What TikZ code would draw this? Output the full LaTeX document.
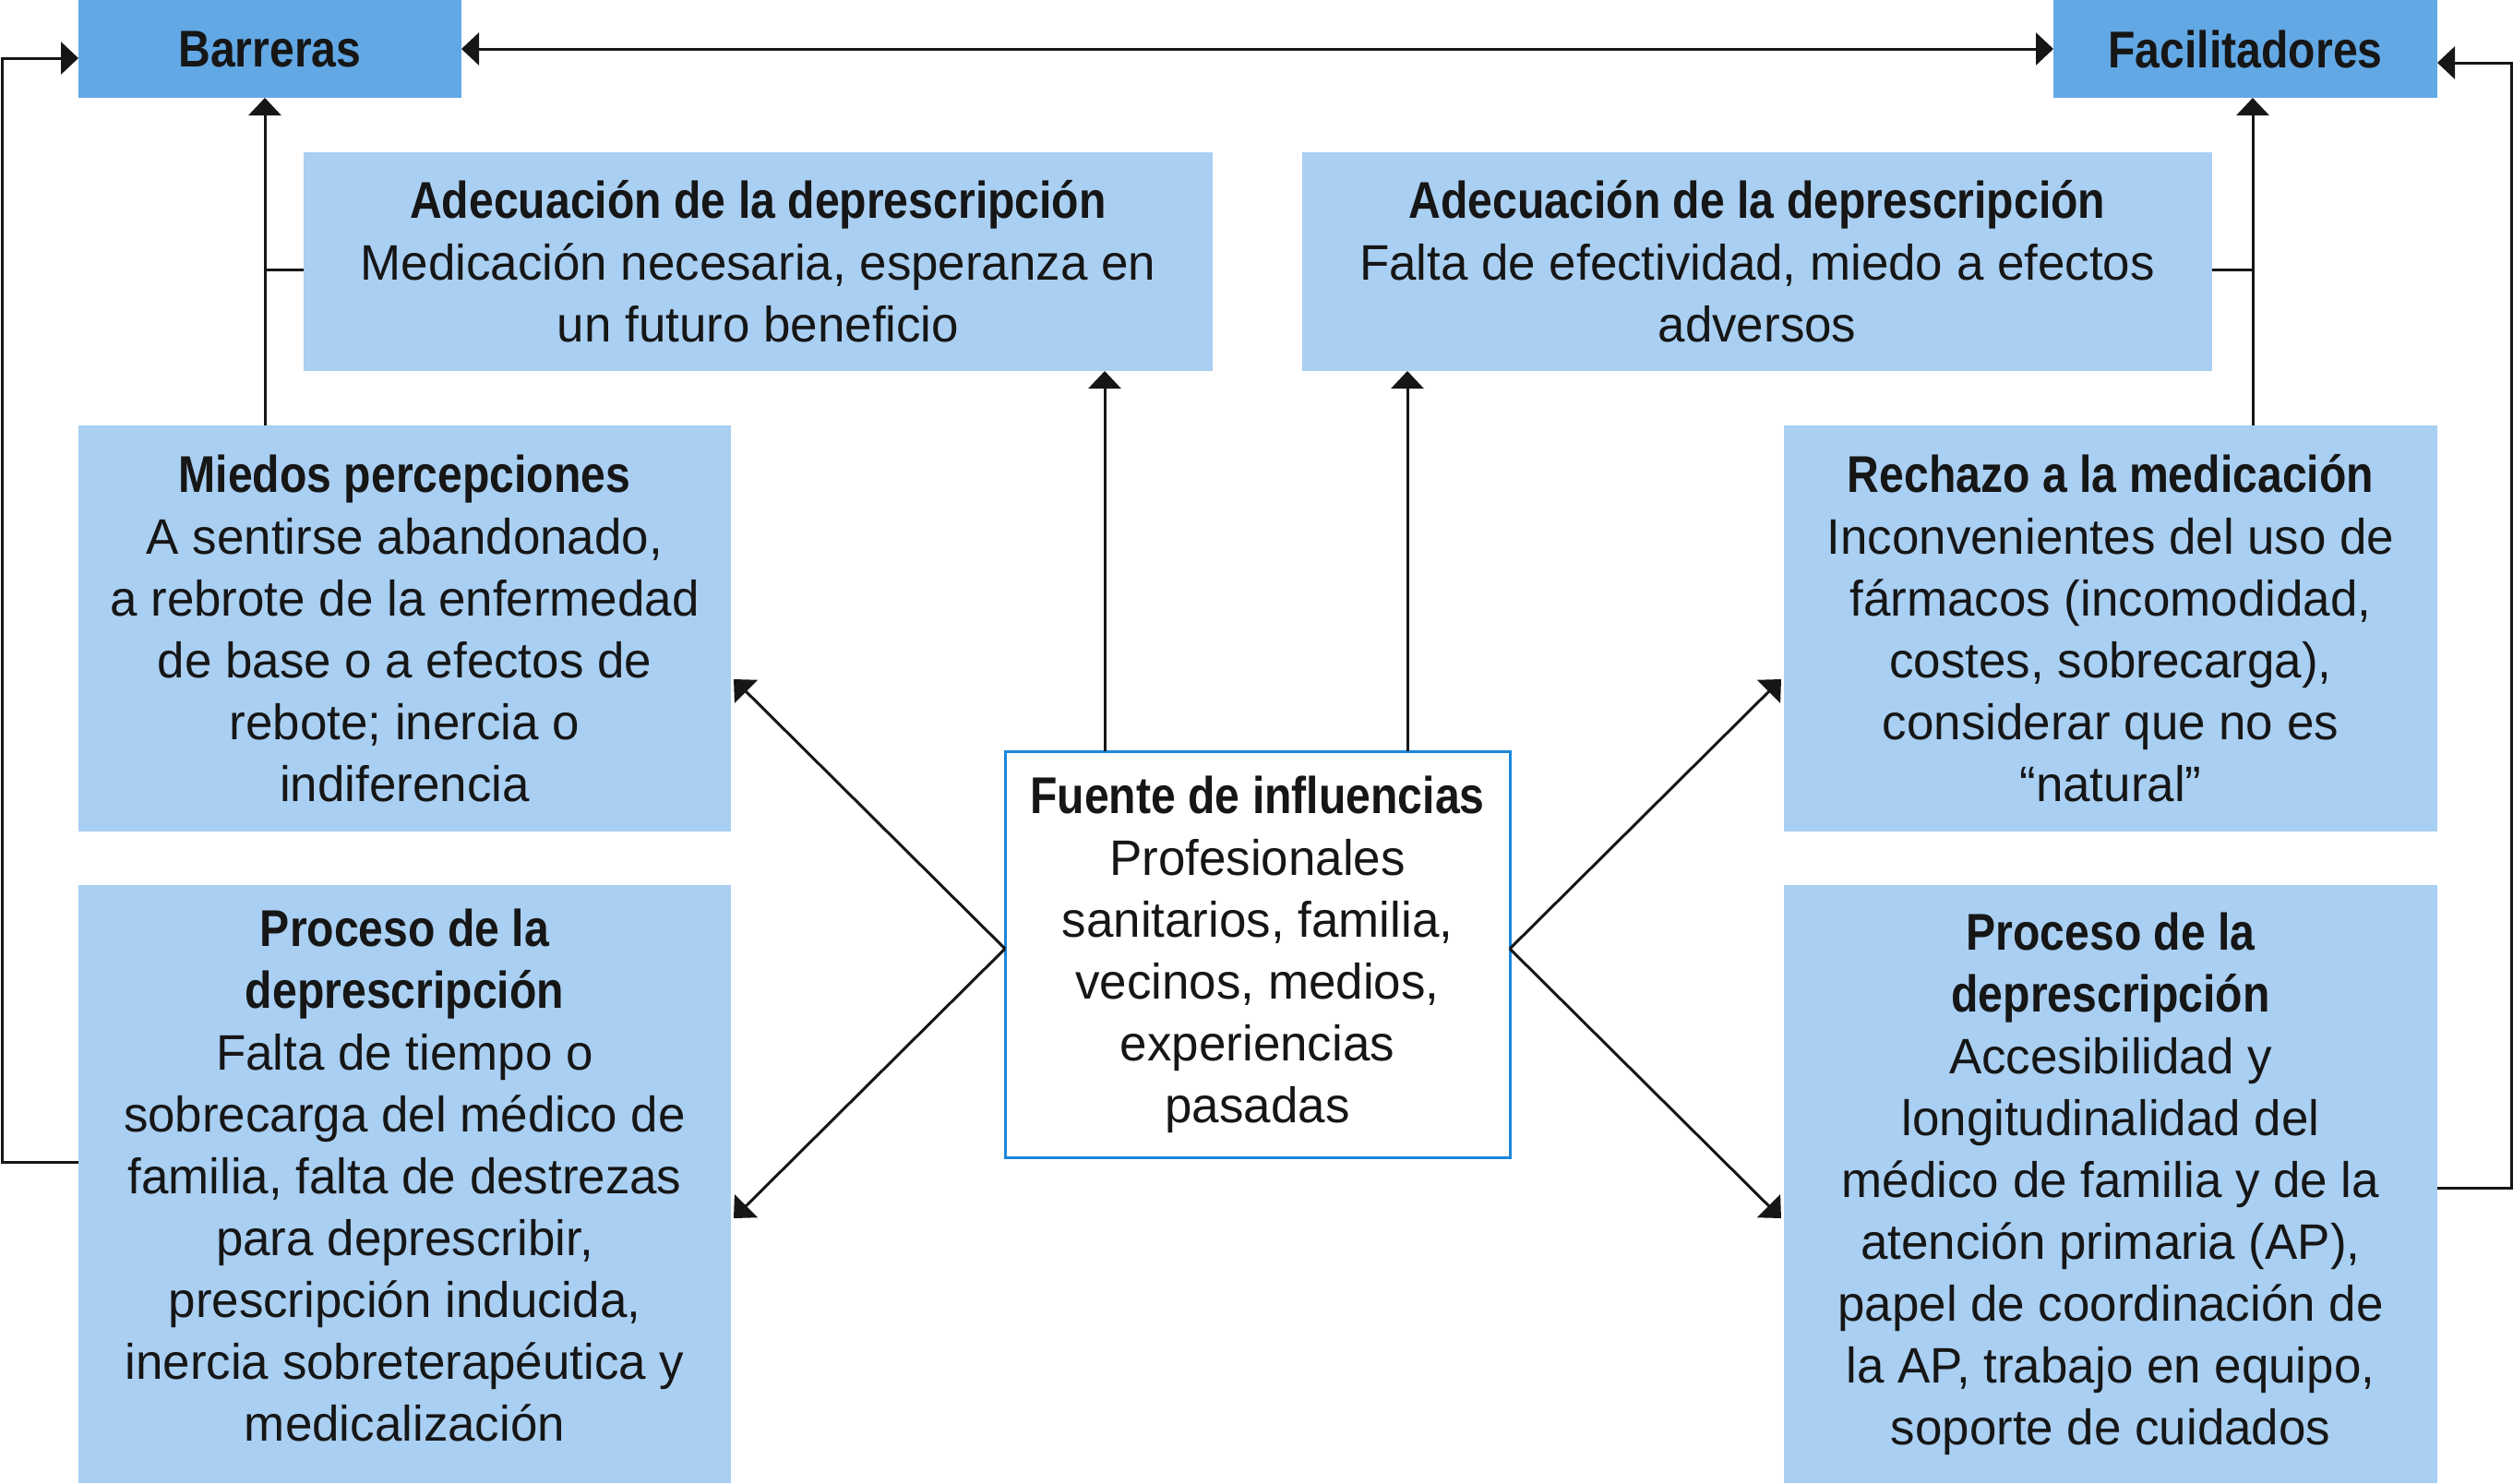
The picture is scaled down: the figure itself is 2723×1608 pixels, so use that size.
\documentclass[tikz,border=0pt]{standalone}
\usepackage{fontspec}
\setmainfont{Liberation Sans}[FakeStretch=0.98]
\newfontfamily\condfont{Liberation Sans}[FakeStretch=0.86]
\usetikzlibrary{arrows.meta}
\definecolor{dkblue}{HTML}{62A8E5}
\definecolor{ltblue}{HTML}{A9CFF2}
\definecolor{bord}{HTML}{1B87DB}
\definecolor{ink}{HTML}{161616}
\newcommand\titlef{\condfont\bfseries\fontsize{14}{16.75}\selectfont}
\begin{document}
\begin{tikzpicture}[x=0.25pt,y=-0.25pt,
  box/.style={inner sep=0pt, outer sep=0pt, align=center, text=ink, font=\fontsize{13.5}{16.75}\selectfont},
  head/.style={box, fill=dkblue, font=\titlef},
  cat/.style={box, fill=ltblue},
  src/.style={box, fill=white, draw=bord, line width=0.75pt},
  conn/.style={draw=ink, line width=0.75pt},
  arr/.style={conn, -{Triangle[length=4.75pt,width=8.75pt]}},
  darr/.style={conn, {Triangle[length=4.75pt,width=8.75pt]}-{Triangle[length=4.75pt,width=8.75pt]}}]
\useasboundingbox (0,0) rectangle (2723,1608);

% header boxes
\node[head, minimum width=103.75pt, minimum height=26.5pt] (bar) at (292.5,53) {Barreras};
\node[head, minimum width=104pt, minimum height=26.5pt] (fac) at (2433,53) {Facilitadores};

% adecuacion boxes
\node[cat, minimum width=246.25pt, minimum height=59.25pt] (adL) at (821.5,283.5)
  {{\titlef Adecuación de la deprescripción}\\Medicación necesaria, esperanza en\\un futuro beneficio};
\node[cat, minimum width=246.5pt, minimum height=59.25pt] (adR) at (1904,283.5)
  {{\titlef Adecuación de la deprescripción}\\Falta de efectividad, miedo a efectos\\adversos};

% left column
\node[cat, minimum width=176.75pt, minimum height=110pt] (mie) at (438.5,681)
  {{\titlef Miedos percepciones}\\A sentirse abandonado,\\a rebrote de la enfermedad\\de base o a efectos de\\rebote; inercia o\\indiferencia};
\node[cat, minimum width=176.75pt, minimum height=162pt] (proL) at (438.5,1283)
  {{\titlef Proceso de la}\\{\titlef deprescripción}\\Falta de tiempo o\\sobrecarga del médico de\\familia, falta de destrezas\\para deprescribir,\\prescripción inducida,\\inercia sobreterapéutica y\\medicalización\strut};

% right column
\node[cat, minimum width=177pt, minimum height=110pt] (rec) at (2287,681)
  {{\titlef Rechazo a la medicación}\\Inconvenientes del uso de\\fármacos (incomodidad,\\costes, sobrecarga),\\considerar que no es\\“natural”};
\node[cat, minimum width=177pt, minimum height=162pt] (proR) at (2287,1283)
  {{\titlef Proceso de la}\\{\titlef deprescripción}\\Accesibilidad y\\longitudinalidad del\\médico de familia y de la\\atención primaria (AP),\\papel de coordinación de\\la AP, trabajo en equipo,\\soporte de cuidados};

% source box
\node[src, minimum width=136.75pt, minimum height=110pt] (fue) at (1362.5,1034)
  {{\titlef Fuente de influencias}\\Profesionales\\sanitarios, familia,\\vecinos, medios,\\experiencias\\pasadas};

% helper coordinates
\coordinate (jL) at (287,292);
\coordinate (jR) at (2441,292);
\coordinate (oL) at (2,1259);
\coordinate (oLt) at (2,63);
\coordinate (oR) at (2721,1287);
\coordinate (oRt) at (2721,68);
\coordinate (uL) at (1197,0);
\coordinate (uR) at (1525,0);
\coordinate (fL) at (1089,1028);
\coordinate (fR) at (1636,1028);
\coordinate (tLa) at (795,736);
\coordinate (tLb) at (795,1320);
\coordinate (tRa) at (1930,736);
\coordinate (tRb) at (1930,1320);

% connectors
\draw[darr] (bar.east) -- (fac.west);
\draw[arr] (jL |- mie.north) -- (jL |- bar.south);
\draw[conn] (adL.west |- jL) -- (jL);
\draw[arr] (jR |- rec.north) -- (jR |- fac.south);
\draw[conn] (adR.east |- jR) -- (jR);
\draw[arr] (oL -| proL.west) -- (oL) -- (oLt) -- (oLt -| bar.west);
\draw[arr] (oR -| proR.east) -- (oR) -- (oRt) -- (oRt -| fac.east);
\draw[arr] (uL |- fue.north) -- (uL |- adL.south);
\draw[arr] (uR |- fue.north) -- (uR |- adR.south);
\draw[arr] (fL) -- (tLa);
\draw[arr] (fL) -- (tLb);
\draw[arr] (fR) -- (tRa);
\draw[arr] (fR) -- (tRb);
\end{tikzpicture}
\end{document}
